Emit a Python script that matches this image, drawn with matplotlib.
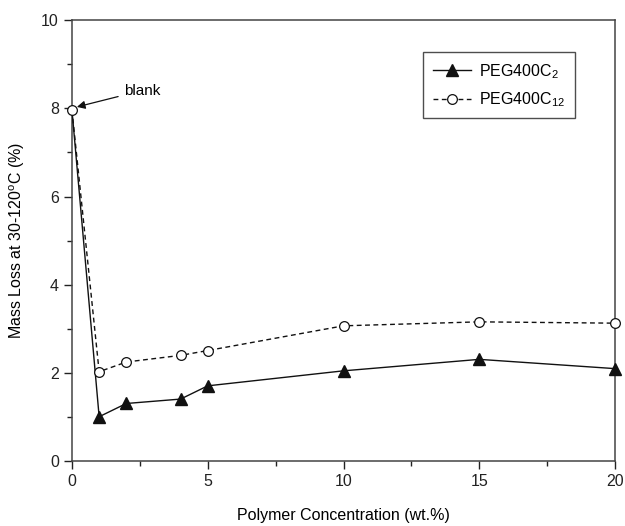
import matplotlib
matplotlib.use("Agg")
import matplotlib.pyplot as plt
from matplotlib.ticker import MultipleLocator

plt.rcParams['font.family'] = ['Liberation Sans', 'DejaVu Sans']
plt.rcParams['mathtext.fontset'] = 'custom'
plt.rcParams['mathtext.rm'] = 'Liberation Sans'
plt.rcParams['mathtext.it'] = 'Liberation Sans'

x_vals = [0, 1, 2, 4, 5, 10, 15, 20]
peg_c2 = [7.95, 1.01, 1.31, 1.41, 1.71, 2.05, 2.31, 2.10]
peg_c12 = [7.95, 2.03, 2.25, 2.40, 2.51, 3.07, 3.16, 3.13]
labels = ['PEG400C$_{2}$', 'PEG400C$_{12}$']

fig = plt.figure(figsize=(6.25, 5.26), dpi=100)
ax = fig.add_axes([0.1152, 0.123, 0.8688, 0.839])

ax.plot(x_vals, peg_c2, color='#111111', lw=1.0, marker='^', ms=8,
        mfc='#111111', mec='#111111', label=labels[0], clip_on=False, zorder=3,
        markevery=list(range(1, len(x_vals))))
ax.plot(x_vals, peg_c12, color='#111111', lw=1.0, ls=(0, (3.5, 2.5)), marker='o', ms=7,
        mfc='white', mec='#111111', mew=0.9, label=labels[1], clip_on=False, zorder=4)

ax.set_xlim(0, 20)
ax.set_ylim(0, 10)
ax.xaxis.set_major_locator(MultipleLocator(5))
ax.xaxis.set_minor_locator(MultipleLocator(2.5))
ax.yaxis.set_major_locator(MultipleLocator(2))
ax.yaxis.set_minor_locator(MultipleLocator(1))
ax.tick_params(which='major', direction='out', length=6, width=1, labelsize=11.5,
               colors='#222222', top=False, right=False)
ax.tick_params(which='minor', direction='out', length=3.5, width=1, top=False, right=False,
               colors='#222222')
for s in ax.spines.values():
    s.set_color('#444444')
    s.set_linewidth(1.1)

ax.set_xlabel('Polymer Concentration (wt.%)', fontsize=11.5, labelpad=13)
ax.set_ylabel('Mass Loss at 30-120$^{\\rm o}$C (%)', fontsize=11.5, labelpad=10)

ax.annotate('blank', xy=(0.18, 8.03), xytext=(1.9, 8.4), fontsize=11,
            va='center', ha='left',
            arrowprops=dict(arrowstyle='-|>', color='#111111', lw=0.9,
                            mutation_scale=12, shrinkA=2, shrinkB=0))

leg = ax.legend(loc='upper left', bbox_to_anchor=(0.632, 0.945), fontsize=11.5,
                frameon=True, fancybox=False, edgecolor='#222222', handlelength=2.4,
                borderpad=0.6, labelspacing=0.6, handletextpad=0.5)
leg.get_frame().set_linewidth(1.0)

fig.savefig('out.png', dpi=100)
